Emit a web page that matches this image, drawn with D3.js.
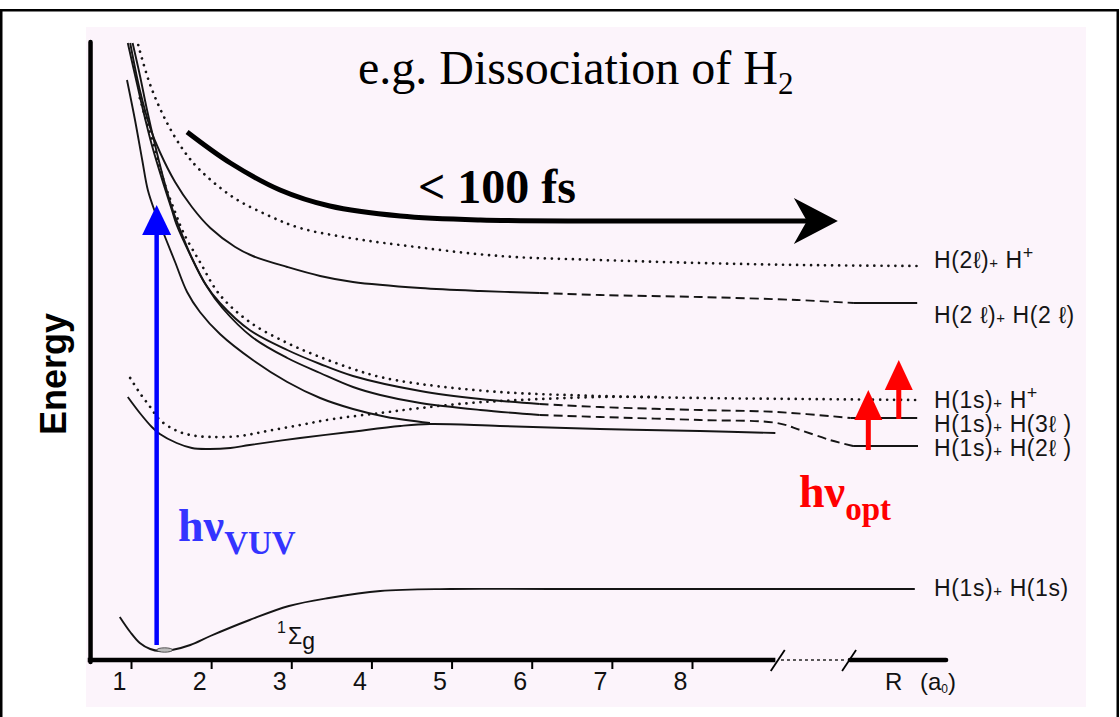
<!DOCTYPE html>
<html>
<head>
<meta charset="utf-8">
<script src="https://cdnjs.cloudflare.com/ajax/libs/d3/7.8.5/d3.min.js"></script>
<style>
  body { margin: 0; background: #fff; }
  svg { display: block; }
</style>
</head>
<body>
<div id="chart"></div>
<script>
// R in bohr (a0), energy in arbitrary units above the axis
const tickValues = [1, 2, 3, 4, 5, 6, 7, 8];

// potential curves, [R, E]
const groundState = [[0.86,4.3],[0.99,2.8],[1.11,1.7],[1.24,1.1],[1.36,0.9],[1.51,1.0],[1.74,1.5],[1.99,2.4],[2.48,4.0],[2.97,5.4],[3.47,6.2],[4.11,6.9],[4.98,7.1],[6.23,7.1],[10.78,7.1]];
const bState = [[0.96,26.3],[1.11,24.7],[1.26,23.3],[1.36,22.6],[1.57,21.7],[1.76,21.2],[1.95,21.1],[2.24,21.2],[2.48,21.5],[3.11,22.2],[3.73,22.8],[4.36,23.4],[4.73,23.6],[5.60,23.4],[6.85,23.1],[8.10,22.9],[9.04,22.7]];
const lowerDotted = [[0.99,28.2],[1.11,26.7],[1.24,25.3],[1.36,24.0],[1.55,23.0],[1.74,22.5],[1.99,22.3],[2.36,22.4],[2.70,22.9],[3.11,23.5],[3.52,24.1],[4.11,24.7],[4.61,25.2],[5.23,25.7],[5.85,26.0],[6.85,26.3],[7.60,26.3]];
const steepLow = [[0.95,58.0],[1.05,54.0],[1.14,50.0],[1.21,47.0],[1.30,44.8],[1.42,42.4],[1.55,39.8],[1.70,36.8],[1.86,34.8],[2.11,32.6],[2.52,30.0],[2.95,27.8],[3.36,26.2],[3.77,25.1],[4.19,24.3],[4.73,23.7]];
const bundleDotted = [[1.11,56.2],[1.17,54.5],[1.30,51.0],[1.42,47.6],[1.55,44.8],[1.65,42.8],[1.86,39.8],[2.11,36.5],[2.48,33.8],[2.95,31.7],[3.36,30.3],[3.77,29.1],[4.11,28.3],[4.61,27.6],[5.60,26.8],[6.85,26.4],[8.10,26.2],[9.35,26.1],[10.82,26.0]];
const h3lSolid = [[0.96,61.7],[1.05,58.5],[1.15,55.0],[1.26,51.5],[1.39,48.0],[1.51,45.0],[1.57,43.5],[1.74,40.5],[1.92,37.7],[2.11,35.7],[2.48,33.0],[2.95,31.0],[3.36,29.6],[3.77,28.4],[4.61,26.9],[5.36,26.1],[6.10,25.6]];
const h3lDashed = [[6.10,25.6],[6.85,25.3],[8.10,25.0],[9.06,24.8],[9.98,24.2]];
const h3lEnd = [[9.98,24.2],[10.81,24.2]];
const h2lSolid = [[1.02,61.7],[1.11,58.5],[1.20,55.0],[1.30,51.5],[1.41,48.0],[1.52,45.0],[1.59,43.5],[1.76,40.2],[1.95,37.3],[2.14,35.2],[2.51,32.3],[2.95,30.2],[3.36,28.7],[3.77,27.3],[4.11,26.5],[4.61,25.7],[5.36,25.0],[6.10,24.5]];
const h2lDashed = [[6.10,24.5],[6.85,24.3],[8.10,24.0],[9.06,23.7],[9.35,23.0],[9.72,22.0],[10.01,21.4]];
const h2lEnd = [[10.01,21.4],[10.82,21.4]];
const upperSolid = [[0.99,61.7],[1.11,57.0],[1.24,53.2],[1.36,50.8],[1.55,47.8],[1.76,45.3],[1.99,43.2],[2.30,41.3],[2.52,40.4],[2.95,39.3],[3.36,38.4],[3.77,37.8],[4.61,37.2],[5.36,36.9],[6.10,36.7]];
const upperDashed = [[6.10,36.7],[6.85,36.5],[8.10,36.3],[9.31,36.0],[10.02,35.7]];
const upperEnd = [[10.02,35.7],[10.81,35.7]];
const upperDotted = [[1.09,61.5],[1.24,57.5],[1.45,53.7],[1.67,50.8],[1.86,49.0],[2.27,46.3],[2.70,44.5],[3.11,43.2],[3.73,42.2],[4.36,41.5],[5.60,40.4],[6.85,40.0],[8.10,39.7],[9.35,39.5],[10.82,39.4]];

// the "< 100 fs" arrow path
const flowArrow = [[1.70,52.8],[2.24,49.7],[2.86,47.0],[3.48,45.4],[4.36,44.4],[5.36,44.0],[6.85,43.9],[9.45,43.9]];
const flowTip = [9.82, 43.9];

// photon arrows
const vuvArrow = [1.32, 1.5, 45.5];          // R, from E, tip E
const optArrowR = [10.20, 10.58];
const optArrowFrom = [21.0, 24.1];
const optArrowTo = [27.0, 30.0];

// dissociation limits
const limitLeft = ["H(2\u2113)", "H(2 \u2113)", "H(1s)", "H(1s)", "H(1s)", "H(1s)"];
const limitRight = ["H", "H(2 \u2113)", "H", "H(3\u2113 )", "H(2\u2113 )", "H(1s)"];
const limitIon = [true, false, true, false, false, false];
const limitLabelE = [39.2, 33.7, 25.2, 22.8, 20.4, 6.4];

const W = 1120, H = 717;
const svg = d3.select("#chart").append("svg").attr("width", W).attr("height", H);

const xs = d3.scaleLinear().domain([1, 8]).range([131, 692]);
const ys = d3.scaleLinear().domain([0, 62]).range([660, 40]);

const serif = "'Liberation Serif', 'Times New Roman', serif";
const sans = "'Liberation Sans', Arial, sans-serif";

// frame and paper
svg.append("rect").attr("x", 1.25).attr("y", 10.25).attr("width", 1116.5).attr("height", 720)
    .attr("fill", "#fff").attr("stroke", "#000").attr("stroke-width", 2.5);
svg.append("rect").attr("x", 86).attr("y", 27).attr("width", 1000).attr("height", 680)
    .attr("fill", "#fcf4fb");

// curves
const line = d3.line()
    .x(d => xs(d[0]))
    .y(d => ys(d[1]))
    .curve(d3.curveCatmullRom.alpha(0.5));

const styles = {
    solid: { w: 1.9, dash: null, cap: "butt" },
    dotted: { w: 2.7, dash: "0.01 7", cap: "round" },
    dashed: { w: 1.9, dash: "9 5", cap: "butt" }
};

const strokes = [
    [groundState, "solid"], [bState, "solid"], [lowerDotted, "dotted"], [steepLow, "solid"],
    [bundleDotted, "dotted"], [h3lSolid, "solid"], [h3lDashed, "dashed"], [h3lEnd, "solid"],
    [h2lSolid, "solid"], [h2lDashed, "dashed"], [h2lEnd, "solid"],
    [upperSolid, "solid"], [upperDashed, "dashed"], [upperEnd, "solid"],
    [upperDotted, "dotted"]
];

svg.append("g").selectAll("path")
    .data(strokes)
    .enter().append("path")
    .attr("d", d => line(d[0]))
    .attr("fill", "none")
    .attr("stroke", "#151515")
    .attr("stroke-width", d => styles[d[1]].w)
    .attr("stroke-dasharray", d => styles[d[1]].dash)
    .attr("stroke-linecap", d => styles[d[1]].cap);

// vibrational level at the bottom of the well
svg.append("ellipse")
    .attr("cx", xs(1.42)).attr("cy", ys(1.0))
    .attr("rx", 8).attr("ry", 2.2)
    .attr("fill", "#bbb").attr("stroke", "#333").attr("stroke-width", 0.8);

// axes
const axisY = ys(0);
svg.append("line")
    .attr("x1", xs(0.495)).attr("x2", xs(0.495))
    .attr("y1", ys(61.8)).attr("y2", axisY + 2)
    .attr("stroke", "#000").attr("stroke-width", 4.5).attr("stroke-linecap", "round");
svg.append("line")
    .attr("x1", xs(0.46)).attr("x2", xs(9.04))
    .attr("y1", axisY).attr("y2", axisY)
    .attr("stroke", "#000").attr("stroke-width", 4.5);
svg.append("line")
    .attr("x1", xs(9.97)).attr("x2", xs(11.17))
    .attr("y1", axisY).attr("y2", axisY)
    .attr("stroke", "#000").attr("stroke-width", 4.5).attr("stroke-linecap", "round");
svg.append("line")
    .attr("x1", xs(9.11)).attr("x2", xs(9.90))
    .attr("y1", axisY).attr("y2", axisY)
    .attr("stroke", "#222").attr("stroke-width", 1.4).attr("stroke-dasharray", "3 3");
[9.07, 9.96].forEach(r => {
    svg.append("line")
        .attr("x1", xs(r) - 7).attr("x2", xs(r) + 7)
        .attr("y1", axisY + 11).attr("y2", axisY - 10)
        .attr("stroke", "#000").attr("stroke-width", 1.8);
});

const xAxis = d3.axisBottom(xs).tickValues(tickValues).tickSize(7).tickFormat(d3.format("d"));
const gx = svg.append("g")
    .attr("transform", `translate(0,${axisY + 2})`)
    .call(xAxis);
gx.select(".domain").remove();
gx.selectAll(".tick line").attr("stroke", "#000").attr("stroke-width", 2);
gx.selectAll(".tick text")
    .attr("x", -12).attr("y", 28).attr("dy", 0)
    .attr("fill", "#111")
    .style("font-family", sans).style("font-size", "25px");

svg.append("text").attr("x", 885).attr("y", axisY + 30)
    .style("font-family", sans).style("font-size", "24px").attr("fill", "#111").text("R");
const au = svg.append("text").attr("x", 920).attr("y", axisY + 30)
    .style("font-family", sans).style("font-size", "24px").attr("fill", "#111");
au.append("tspan").text("(a");
au.append("tspan").attr("dy", 3).style("font-size", "12px").text("0");
au.append("tspan").attr("dy", -3).text(")");

svg.append("text")
    .attr("transform", `translate(66,${374}) rotate(-90)`)
    .attr("text-anchor", "middle")
    .style("font-family", sans).style("font-size", "36px").style("font-weight", "bold")
    .text("Energy");

// title
const title = svg.append("text").attr("x", 358).attr("y", 84)
    .style("font-family", serif).style("font-size", "48px").attr("fill", "#000");
title.append("tspan").text("e.g. Dissociation of H");
title.append("tspan").attr("dy", 10).style("font-size", "31px").text("2");

// term symbol of the ground state
const term = svg.append("text").attr("x", 277).attr("y", 644)
    .style("font-family", sans).style("font-size", "23px").attr("fill", "#111");
term.append("tspan").attr("dy", -11).style("font-size", "16px").text("1");
term.append("tspan").attr("dy", 11).attr("dx", 2).text("\u03a3");
term.append("tspan").attr("dy", 5).text("g");

// dissociation limit labels
const labelX = xs(11.02);
limitLeft.forEach((t, i) => {
    const tx = svg.append("text")
        .attr("x", labelX).attr("y", ys(limitLabelE[i]))
        .style("font-family", sans).style("font-size", "23px")
        .style("letter-spacing", "0.6px").attr("fill", "#151515");
    tx.append("tspan").text(t);
    tx.append("tspan").style("font-size", "15px").text("+");
    tx.append("tspan").text("\u00a0" + limitRight[i]);
    if (limitIon[i]) tx.append("tspan").attr("dy", -9).style("font-size", "18px").text("+");
});

// < 100 fs arrow
svg.append("path")
    .attr("d", line(flowArrow))
    .attr("fill", "none").attr("stroke", "#000").attr("stroke-width", 5);
const tx0 = xs(flowTip[0]), ty0 = ys(flowTip[1]);
svg.append("path")
    .attr("d", `M${tx0},${ty0} L${tx0 - 44},${ty0 - 23} L${tx0 - 31},${ty0} L${tx0 - 44},${ty0 + 23} Z`)
    .attr("fill", "#000");
svg.append("text").attr("x", 418).attr("y", 203)
    .style("font-family", serif).style("font-size", "48px").style("font-weight", "bold")
    .text("< 100 fs");

// photon arrows
function upArrow(r, e0, e1, color, w, headW, headH) {
    const x = xs(r), y0 = ys(e0), y1 = ys(e1);
    svg.append("line").attr("x1", x).attr("x2", x).attr("y1", y0).attr("y2", y1 + headH - 1)
        .attr("stroke", color).attr("stroke-width", w);
    svg.append("path")
        .attr("d", `M${x},${y1} L${x - headW / 2},${y1 + headH} L${x + headW / 2},${y1 + headH} Z`)
        .attr("fill", color);
}
upArrow(vuvArrow[0], vuvArrow[1], vuvArrow[2], "#0000ff", 4.5, 29, 30);
optArrowR.forEach((r, i) => upArrow(r, optArrowFrom[i], optArrowTo[i], "#ff0000", 5, 28, 30));

const vuv = svg.append("text").attr("x", 178).attr("y", 541)
    .style("font-family", serif).style("font-size", "46px").style("font-weight", "bold")
    .attr("fill", "#3434ff");
vuv.append("tspan").text("h\u03bd");
vuv.append("tspan").attr("dy", 13).style("font-size", "33px").text("VUV");

const opt = svg.append("text").attr("x", 799).attr("y", 507)
    .style("font-family", serif).style("font-size", "46px").style("font-weight", "bold")
    .attr("fill", "#ff0000");
opt.append("tspan").text("h\u03bd");
opt.append("tspan").attr("dy", 13).style("font-size", "33px").text("opt");
</script>
</body>
</html>
